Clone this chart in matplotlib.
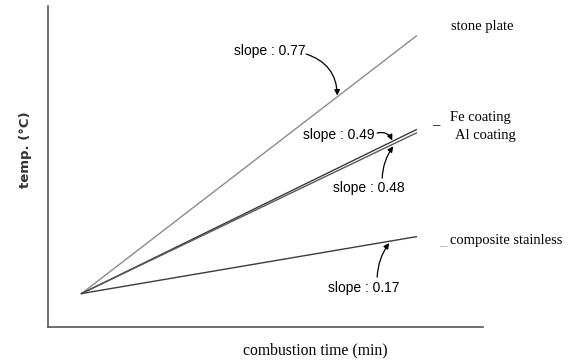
import numpy as np
import matplotlib
matplotlib.use("Agg")
import matplotlib.pyplot as plt

# combustion time (arbitrary units) and start temperature
t = [10, 110]
t0 = 10
names = ['stone plate', 'Fe coating', 'Al coating', 'composite stainless']
slopes = [0.77, 0.49, 0.48, 0.17]
colors = ['#8c8c8c', '#3a3a3a', '#5a5a5a', '#3c3c3c']

fig = plt.figure(figsize=(5.69, 3.6), dpi=100)
ax = fig.add_axes([0.0844, 0.0917, 0.765, 0.892])

for name, s, c in zip(names, slopes, colors):
    y = [t0 + s * (x - t[0]) for x in t]
    ax.plot(t, y, color=c, lw=1.0, label=name)

ax.set_xlim(0, 130)
ax.set_ylim(0, 96)
for side in ['top', 'right']:
    ax.spines[side].set_visible(False)
for side in ['left', 'bottom']:
    ax.spines[side].set_color('#555555')
    ax.spines[side].set_linewidth(1.2)
ax.set_xticks([])
ax.set_yticks([])

serif = 'Liberation Serif'
sans = 'Liberation Sans'

fig.text(0.5536, 0.028, 'combustion time (min)', family=serif, fontsize=11.3,
         ha='center', va='center')
fig.text(0.044, 0.583, 'temp. (°C)', family='DejaVu Sans', fontsize=9.5,
         fontweight='bold', color='#333333', rotation=90, ha='center', va='center')

# curve labels on the right
lab_kw = dict(family=serif, fontsize=10.5, clip_on=False, va='center', ha='left')
ax.text(120.4, 89.7, 'stone plate', **lab_kw)
ax.text(120.1, 62.5, 'Fe coating', **lab_kw)
ax.text(121.6, 57.1, 'Al coating', **lab_kw)
ax.text(114.6, 61.8, '_', **lab_kw)
ax.text(120.1, 26.0, 'composite stainless', **lab_kw)
ax.text(116.8, 25.5, '_', color='#aaaaaa', **lab_kw)

arr = dict(arrowstyle='-|>', color='black', lw=0.9, mutation_scale=8,
           shrinkA=0, shrinkB=0)
ann_kw = dict(family=sans, fontsize=10, ha='center', va='center')

# text labels
ax.text(66.3, 82.5, 'slope : 0.77', **ann_kw)
ax.text(86.7, 57.4, 'slope : 0.49', **ann_kw)
ax.text(95.9, 41.5, 'slope : 0.48', **ann_kw)
ax.text(94.4, 11.7, 'slope : 0.17', **ann_kw)

# curved pointers
ax.annotate('', xy=(86.4, 69.2), xytext=(77.1, 81.6),
            arrowprops=dict(connectionstyle='arc3,rad=-0.35', **arr))
ax.annotate('', xy=(102.8, 55.8), xytext=(98.3, 58.0),
            arrowprops=dict(connectionstyle='arc3,rad=-0.4', **arr))
ax.annotate('', xy=(103.1, 54.0), xytext=(99.8, 44.5),
            arrowprops=dict(connectionstyle='arc3,rad=-0.15', **arr))
ax.annotate('', xy=(101.9, 25.1), xytext=(98.3, 14.9),
            arrowprops=dict(connectionstyle='arc3,rad=-0.15', **arr))

plt.savefig('out.png', dpi=100)
